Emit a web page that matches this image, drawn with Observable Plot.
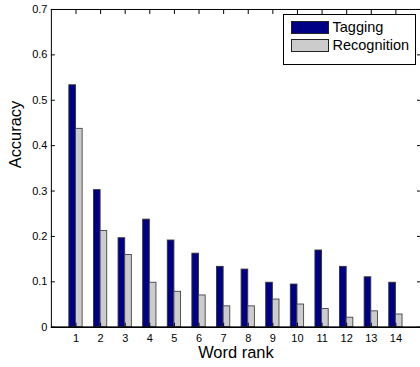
<!DOCTYPE html>
<html><head><meta charset="utf-8">
<script src="https://cdn.jsdelivr.net/npm/d3@7"></script>
<script src="https://cdn.jsdelivr.net/npm/@observablehq/plot@0.6"></script>
<style>
html,body{margin:0;padding:0;background:#fff;overflow:hidden;}
#wrap{position:relative;width:420px;height:367px;overflow:hidden;}
#wrap svg{display:block;}
.legend{position:absolute;left:282.5px;top:14px;width:133px;height:50.5px;border:1px solid #000;box-sizing:border-box;background:#fff;font-family:"Liberation Sans",Arial,sans-serif;font-size:14.5px;color:#000;}
.legend .row{position:absolute;left:7px;height:14px;display:flex;align-items:center;}
.legend .sw{width:38px;height:13px;border:1px solid #222;box-sizing:border-box;margin-right:4px;}
</style>
</head><body>
<div id="wrap"></div>
<script>
const ranks = [1,2,3,4,5,6,7,8,9,10,11,12,13,14];
const tagging = [0.533,0.302,0.196,0.237,0.191,0.162,0.133,0.127,0.098,0.094,0.169,0.133,0.110,0.098];
const recognition = [0.437,0.212,0.159,0.098,0.078,0.070,0.046,0.046,0.061,0.050,0.040,0.021,0.035,0.028];
const yTicks = [0,0.1,0.2,0.3,0.4,0.5,0.6,0.7];
const seriesNames = ["Tagging","Recognition"];
const seriesColors = ["#000087","#cccccc"];
const xLabel = "Word rank";
const yLabel = "Accuracy";

const barW = 0.27;
const tagRows = ranks.map((r,i)=>({rank:r, value:tagging[i]}));
const recRows = ranks.map((r,i)=>({rank:r, value:recognition[i]}));
const font = '"Liberation Sans", Arial, sans-serif';

const chart = Plot.plot({
  width: 421, height: 367,
  marginLeft: 51, marginRight: 0, marginTop: 9, marginBottom: 39.5,
  style: {fontFamily: font, background: "#fff", color: "#000"},
  x: {type: "linear", domain: [0, 15]},
  y: {domain: [0, 0.7]},
  marks: [
    Plot.rectY(tagRows, {x1: d => d.rank - barW, x2: d => d.rank, y1: 0, y2: "value", fill: seriesColors[0], stroke: "#333", strokeWidth: 0.9}),
    Plot.rectY(recRows, {x1: d => d.rank, x2: d => d.rank + barW, y1: 0, y2: "value", fill: seriesColors[1], stroke: "#444", strokeWidth: 0.9}),
    Plot.frame({stroke: "#000", strokeWidth: 1}),
    Plot.ruleY([0], {stroke: "#000", strokeWidth: 1.6}),
    // labels
    Plot.axisX(ranks, {anchor: "bottom", tickSize: 0, tickPadding: 7, fontSize: 11, tickFormat: d => String(d), label: null}),
    Plot.axisY(yTicks, {anchor: "left", tickSize: 0, tickPadding: 4, fontSize: 11, tickFormat: d => d === 0 ? "0" : d.toFixed(1), label: null}),
    // inward ticks
    Plot.axisX(ranks, {anchor: "top", tickSize: 4, dy: 4, fill: "none", label: null}),
    Plot.axisX(ranks, {anchor: "bottom", tickSize: 4, dy: -4, fill: "none", label: null}),
    Plot.axisY(yTicks, {anchor: "left", tickSize: 4, dx: 4, fill: "none", label: null}),
    Plot.axisY(yTicks, {anchor: "right", tickSize: 4, dx: -4, fill: "none", label: null}),
    Plot.text([xLabel], {frameAnchor: "bottom", dy: 26, fontSize: 16.5, lineAnchor: "middle", text: d => d, fill: "#000"}),
    Plot.text([yLabel], {frameAnchor: "left", dx: -36, rotate: -90, fontSize: 16.5, lineAnchor: "middle", text: d => d, fill: "#000"})
  ]
});
const wrap = document.getElementById("wrap");
wrap.appendChild(chart);

const leg = document.createElement("div");
leg.className = "legend";
seriesNames.forEach((name, i) => {
  const row = document.createElement("div");
  row.className = "row";
  row.style.top = (5 + i * 18) + "px";
  const sw = document.createElement("div");
  sw.className = "sw";
  sw.style.background = seriesColors[i];
  const t = document.createElement("span");
  t.textContent = name;
  row.appendChild(sw); row.appendChild(t);
  leg.appendChild(row);
});
wrap.appendChild(leg);
</script>
</body></html>
